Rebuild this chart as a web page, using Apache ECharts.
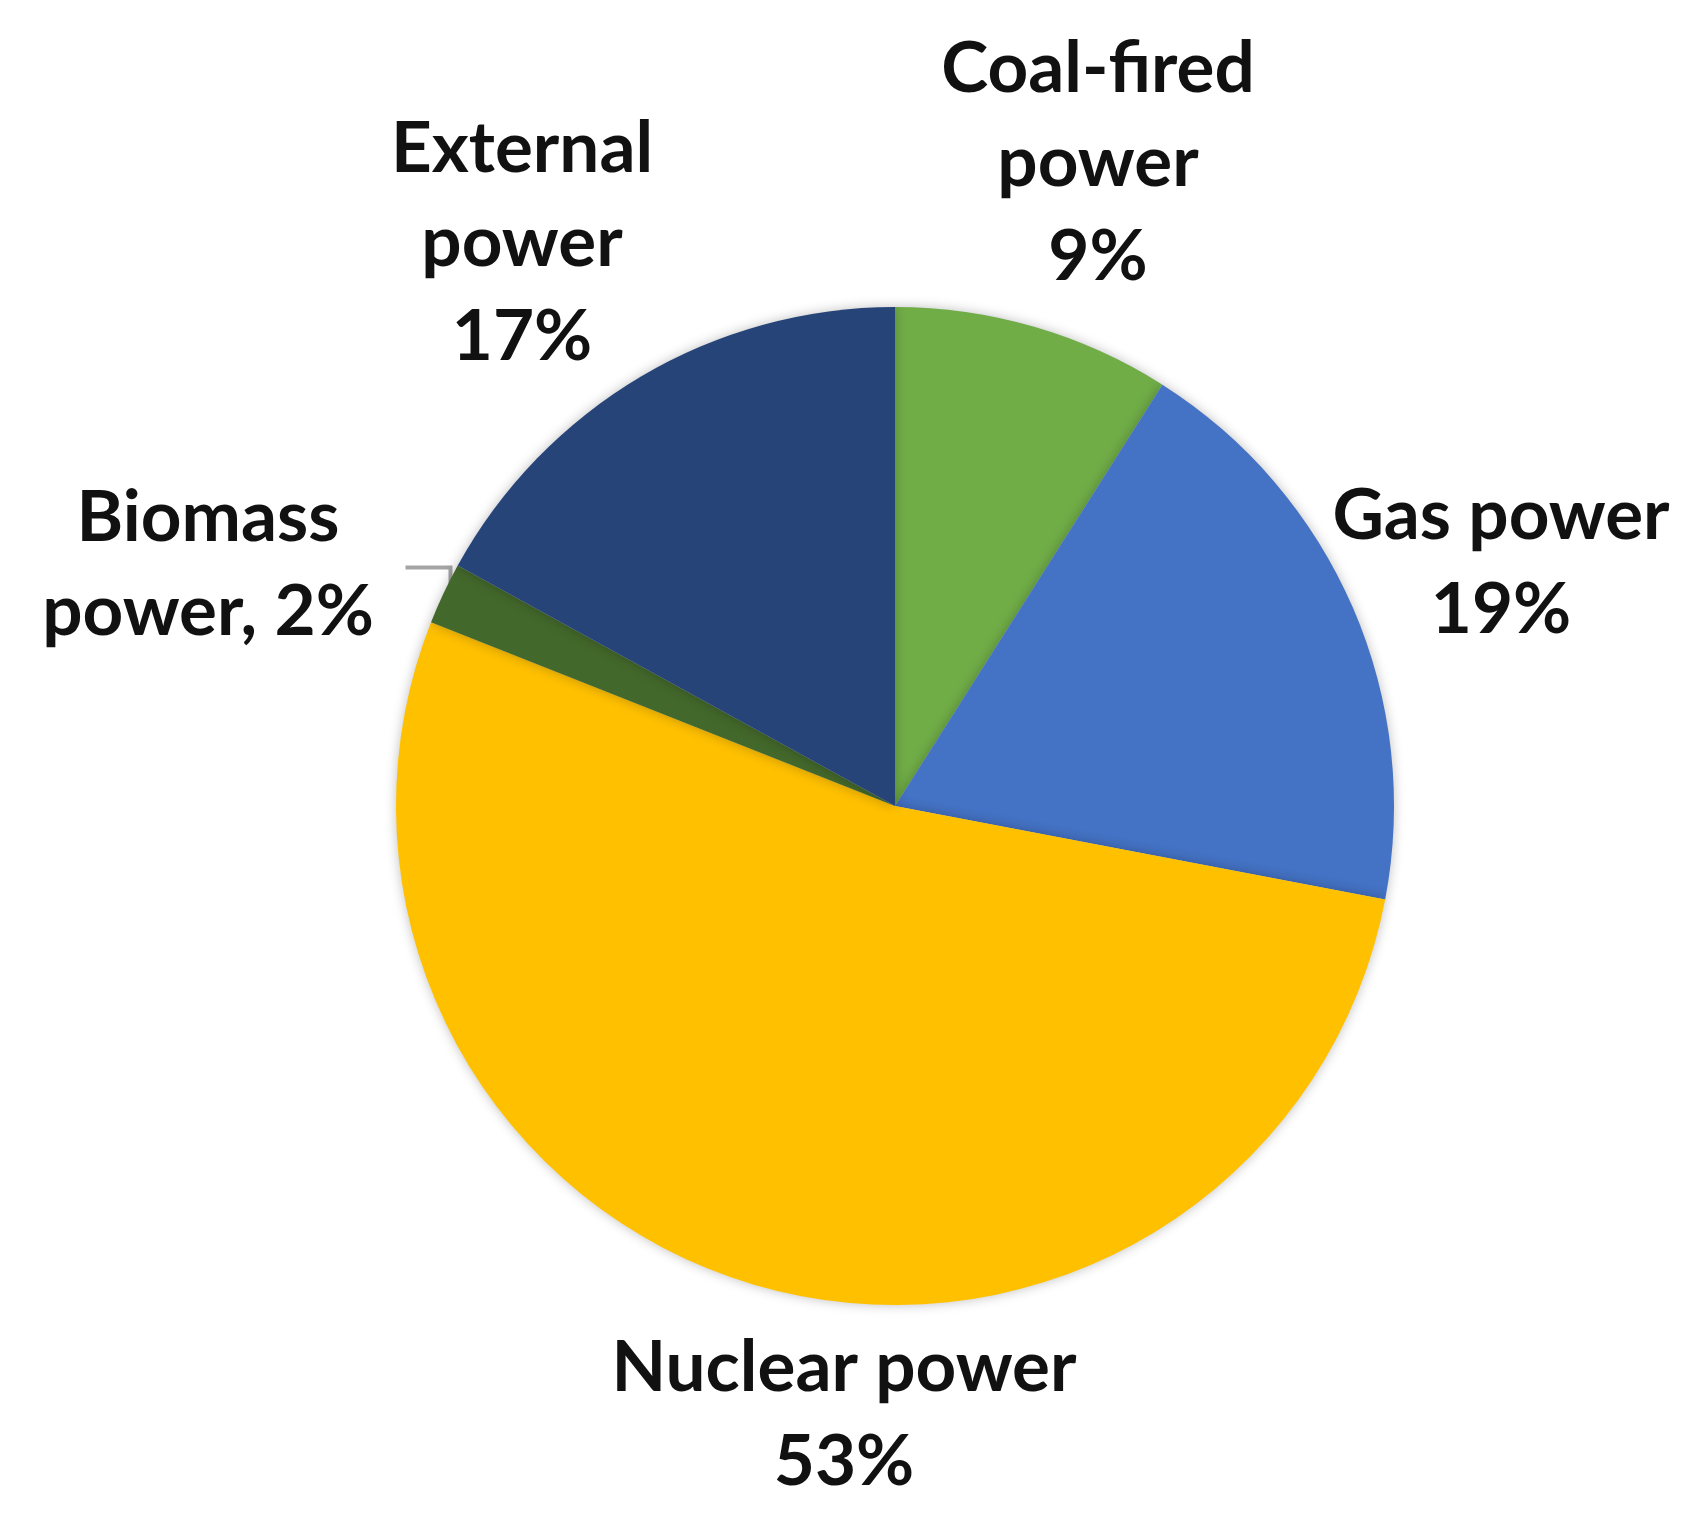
<!DOCTYPE html>
<html>
<head>
<meta charset="utf-8">
<script src="https://cdn.jsdelivr.net/npm/echarts@6/dist/echarts.min.js"></script>
<style>
  html, body { margin: 0; padding: 0; background: #fff; }
  #chart { width: 1698px; height: 1519px; }
</style>
</head>
<body>
<div id="chart"></div>
<script>
// slices clockwise from 12 o'clock
const sourceNames = ['Coal-fired power', 'Gas power', 'Nuclear power', 'Biomass power', 'External power'];
const labelNames = ['Coal-fired\npower', 'Gas power', 'Nuclear power', 'Biomass\npower,', 'External\npower'];
const shares = [9, 19, 53, 2, 17];
const sliceColors = ['#70AD47', '#4472C4', '#FFC000', '#43682B', '#264478'];

// where each label block sits (centre of text block)
const labelSpots = [[1098, 163], [1501, 563], [844, 1415], [208, 565], [522, 243]];

const chart = echarts.init(document.getElementById('chart'));

const option = {
  backgroundColor: '#fff',
  animation: false,
  series: [
    {
      type: 'pie',
      center: [895, 806],
      radius: 499,
      startAngle: 90,
      clockwise: true,
      silent: true,
      itemStyle: {
        shadowBlur: 12,
        shadowColor: 'rgba(0,0,0,0.25)',
      },
      label: {
        show: true,
        position: 'outside',
        fontFamily: 'Lato',
        fontWeight: 'bold',
        fontSize: 71,
        lineHeight: 94,
        color: '#111',
        align: 'center',
        overflow: 'none',
        width: 700,
        formatter: function(p) {
          const sep = p.dataIndex === 3 ? ' ' : '\n';
          return labelNames[p.dataIndex] + sep + p.value + '%';
        },
      },
      labelLine: { show: false, lineStyle: { color: '#A5A5A5', width: 4 } },
      labelLayout: function(params) {
        const spot = labelSpots[params.dataIndex];
        const out = {
          x: spot[0],
          y: spot[1],
          align: 'center',
          verticalAlign: 'middle',
          hideOverlap: false,
          moveOverlap: false,
        };
        if (params.dataIndex === 3 && params.labelLinePoints) {
          const p0 = params.labelLinePoints[0];
          out.labelLinePoints = [
            [p0[0] + 7, p0[1] - 6],
            [p0[0] + 7, p0[1] - 26],
            [p0[0] - 38, p0[1] - 26],
          ];
        }
        return out;
      },
      data: shares.map((v, i) => ({
        name: sourceNames[i],
        value: v,
        itemStyle: { color: sliceColors[i] },
        labelLine: { show: i === 3 },
      })),
    },
  ],
};

chart.setOption(option);
</script>
</body>
</html>
